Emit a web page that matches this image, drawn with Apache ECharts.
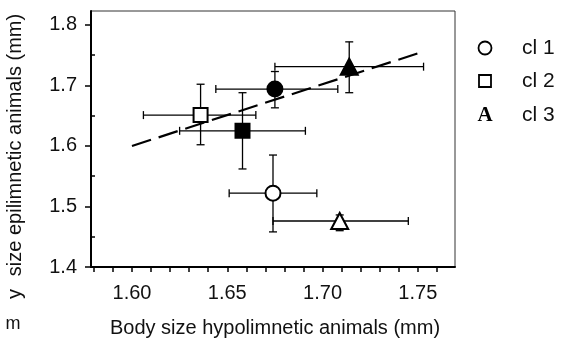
<!DOCTYPE html>
<html>
<head>
<meta charset="utf-8">
<script src="https://cdn.jsdelivr.net/npm/echarts@6/dist/echarts.min.js"></script>
<style>
  html, body { margin: 0; padding: 0; background: #fff; }
  #chart { width: 567px; height: 339px; }
</style>
</head>
<body>
<div id="chart"></div>
<script>
// cluster names (legend)
var clusters = ['cl 1', 'cl 2', 'cl 3'];
// points: 0-2 open markers, 3-5 filled markers (cl1 circle, cl2 square, cl3 triangle)
var ptX = [1.674, 1.636, 1.709, 1.675, 1.658, 1.714];
var ptY = [1.522, 1.651, 1.476, 1.694, 1.625, 1.731];
var xLo = [1.651, 1.606, 1.674, 1.644, 1.625, 1.675];
var xHi = [1.697, 1.665, 1.745, 1.708, 1.691, 1.753];
var yLo = [1.458, 1.602, 1.460, 1.663, 1.562, 1.688];
var yHi = [1.585, 1.702, 1.486, 1.723, 1.688, 1.772];
var ptCluster = [0, 1, 2, 0, 1, 2];
var ptFilled = [false, false, false, true, true, true];
// dashed regression line
var trendX = [1.600, 1.750];
var trendY = [1.600, 1.753];
// axis ticks / labels
var xTicks = [1.58, 1.59, 1.60, 1.61, 1.62, 1.63, 1.64, 1.65, 1.66, 1.67, 1.68, 1.69, 1.70, 1.71, 1.72, 1.73, 1.74, 1.75, 1.76];
var xLabels = [1.60, 1.65, 1.70, 1.75];
var yLabels = [1.4, 1.5, 1.6, 1.7, 1.8];
var yMinor = [1.45, 1.55, 1.65, 1.75];

var FONT = '"Liberation Sans", Arial, sans-serif';
var shapes = ['circle', 'rect', 'triangle'];
var sizes = [15, 14, [17, 16]];

var myChart = echarts.init(document.getElementById('chart'));

function renderErr(params, api) {
	var x = api.value(0), y = api.value(1);
	var l = api.coord([api.value(2), y]);
	var r = api.coord([api.value(3), y]);
	var b = api.coord([x, api.value(4)]);
	var t = api.coord([x, api.value(5)]);
	var cap = 4;
	var st = { stroke: '#000', lineWidth: 1.3 };
	function seg(x1, y1, x2, y2) {
		return { type: 'line', shape: { x1: x1, y1: y1, x2: x2, y2: y2 }, style: st };
	}
	return {
		type: 'group',
		children: [
			seg(l[0], l[1], r[0], r[1]),
			seg(b[0], b[1], t[0], t[1]),
			seg(l[0], l[1] - cap, l[0], l[1] + cap),
			seg(r[0], r[1] - cap, r[0], r[1] + cap),
			seg(b[0] - cap, b[1], b[0] + cap, b[1]),
			seg(t[0] - cap, t[1], t[0] + cap, t[1])
		]
	};
}

var series = [
	{
		type: 'line',
		data: trendX.map(function (x, i) { return [x, trendY[i]]; }),
		symbol: 'none',
		lineStyle: { color: '#000', width: 2.2, type: [20, 8] },
		z: 1,
		silent: true
	},
	{
		type: 'custom',
		renderItem: renderErr,
		data: ptX.map(function (x, i) { return [x, ptY[i], xLo[i], xHi[i], yLo[i], yHi[i]]; }),
		z: 2,
		silent: true
	}
];
ptX.forEach(function (x, i) {
	var c = ptCluster[i];
	series.push({
		type: 'scatter',
		name: clusters[c],
		data: [[x, ptY[i]]],
		symbol: shapes[c],
		symbolSize: sizes[c],
		itemStyle: {
			color: ptFilled[i] ? '#000' : '#fff',
			borderColor: '#000',
			borderWidth: 2,
			opacity: 1
		},
		z: 5,
		silent: true
	});
});

var option = {
	animation: false,
	grid: {
		left: 91, top: 11, right: 112, bottom: 72,
		show: true, borderColor: '#333', borderWidth: 1
	},
	xAxis: {
		type: 'value',
		min: 1.5785,
		max: 1.7695,
		axisLine: { lineStyle: { color: '#000', width: 2 } },
		axisTick: { customValues: xTicks, length: 5, lineStyle: { color: '#000', width: 1.5 } },
		axisLabel: {
			customValues: xLabels,
			formatter: function (v) { return v.toFixed(2); },
			color: '#111', fontSize: 20, fontFamily: FONT, margin: 16
		},
		splitLine: { show: false }
	},
	yAxis: [
		{
			type: 'value',
			min: 1.4,
			max: 1.823,
			axisLine: { show: true, lineStyle: { color: '#000', width: 2 } },
			axisTick: { show: true, customValues: yLabels, length: 6, lineStyle: { color: '#000', width: 1.5 } },
			axisLabel: {
				customValues: yLabels,
				formatter: function (v) { return v.toFixed(1); },
				color: '#111', fontSize: 20, fontFamily: FONT, margin: 14
			},
			splitLine: { show: false }
		},
		{
			type: 'value',
			min: 1.4,
			max: 1.823,
			position: 'left',
			axisLine: { show: false },
			axisTick: { show: true, inside: true, customValues: yMinor, length: 4, lineStyle: { color: '#000', width: 1.5 } },
			axisLabel: { show: false },
			splitLine: { show: false }
		}
	],
	graphic: [
		{
			type: 'text', x: 275, y: 328, silent: true,
			style: { text: 'Body size hypolimnetic animals (mm)', fill: '#111', font: '20px ' + FONT, align: 'center', verticalAlign: 'middle' }
		},
		{
			type: 'text', x: 15, y: 145, rotation: Math.PI / 2, silent: true,
			style: { text: 'size epilimnetic animals (mm)', fill: '#111', font: '20px ' + FONT, align: 'center', verticalAlign: 'middle' }
		},
		{
			type: 'text', x: 15, y: 294, rotation: Math.PI / 2, silent: true,
			style: { text: 'y', fill: '#111', font: '20px ' + FONT, align: 'center', verticalAlign: 'middle' }
		},
		{
			type: 'text', x: 13, y: 324, silent: true,
			style: { text: 'm', fill: '#111', font: '18px ' + FONT, align: 'center', verticalAlign: 'middle' }
		},
		{
			type: 'circle', shape: { cx: 485, cy: 48, r: 6.5 }, silent: true,
			style: { fill: '#fff', stroke: '#000', lineWidth: 1.8 }
		},
		{
			type: 'rect', shape: { x: 479, y: 75, width: 12, height: 12 }, silent: true,
			style: { fill: '#fff', stroke: '#000', lineWidth: 1.8 }
		},
		{
			type: 'text', x: 485, y: 116, silent: true,
			style: { text: 'A', fill: '#000', font: 'bold 21px "Liberation Serif", "DejaVu Serif", serif', align: 'center', verticalAlign: 'middle' }
		},
		{
			type: 'text', x: 522, y: 48, silent: true,
			style: { text: clusters[0], fill: '#111', font: '21px ' + FONT, verticalAlign: 'middle' }
		},
		{
			type: 'text', x: 522, y: 81, silent: true,
			style: { text: clusters[1], fill: '#111', font: '21px ' + FONT, verticalAlign: 'middle' }
		},
		{
			type: 'text', x: 522, y: 115, silent: true,
			style: { text: clusters[2], fill: '#111', font: '21px ' + FONT, verticalAlign: 'middle' }
		}
	],
	series: series
};
myChart.setOption(option);
</script>
</body>
</html>
